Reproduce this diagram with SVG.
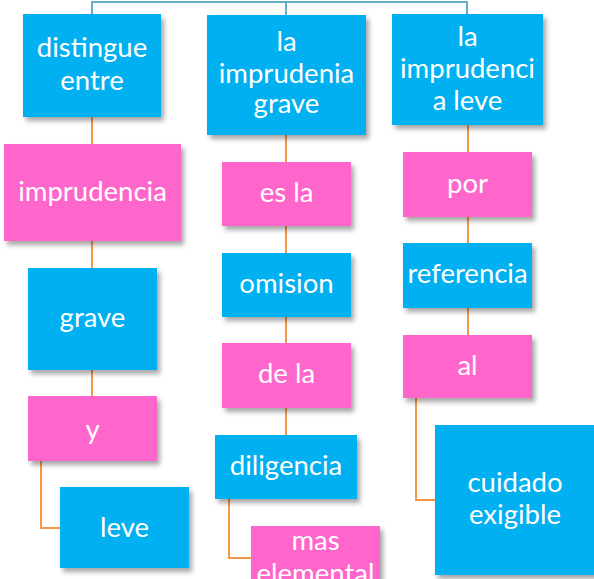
<svg xmlns="http://www.w3.org/2000/svg" width="594" height="579" viewBox="0 0 594 579">
<defs>
<filter id="sh" x="-10%" y="-10%" width="125%" height="130%">
<feDropShadow dx="3" dy="4" stdDeviation="2.5" flood-color="#000" flood-opacity="0.35"/>
</filter>
<style>
.b{fill:#00B0F0;filter:url(#sh)}
.p{fill:#FF66CC;filter:url(#sh)}
text{font-family:Lato,"Open Sans","Noto Sans",sans-serif;font-size:27.5px;fill:#fff;text-anchor:middle}
.c{fill:none;stroke:#F79646;stroke-width:2}
.t{fill:none;stroke:#62AFC8;stroke-width:2}
</style>
</defs>
<rect width="594" height="579" fill="#fff"/>
<g id="connectors">
<path class="t" d="M92 14V2H467V14M286 2V15"/>
<path class="c" d="M92 117V144M92 241V268M92 370V396M41 461V528H60"/>
<path class="c" d="M286 135V162M286 226V253M286 317V343M286 408V435M229 499V558H251"/>
<path class="c" d="M468 125V152M468 217V243M468 308V335M416 398V500H435"/>
</g>
<g id="n1"><rect class="b" x="23" y="14" width="138" height="103"/><text x="92" y="57">distingue</text><text x="92" y="90">entre</text></g>
<g id="n2"><rect class="b" x="207" y="15" width="159" height="120"/><text x="286.5" y="51">la</text><text x="286.5" y="83">imprudenia</text><text x="286.5" y="113">grave</text></g>
<g id="n3"><rect class="b" x="392" y="14" width="151" height="111"/><text x="467.5" y="46">la</text><text x="467.5" y="78">imprudenci</text><text x="467.5" y="110">a leve</text></g>
<g id="n4"><rect class="p" x="4" y="144" width="177" height="97"/><text x="92.5" y="201">imprudencia</text></g>
<g id="n5"><rect class="b" x="28" y="268" width="129" height="102"/><text x="92.5" y="327">grave</text></g>
<g id="n6"><rect class="p" x="28" y="396" width="129" height="65"/><text x="92.5" y="439">y</text></g>
<g id="n7"><rect class="b" x="60" y="487" width="129" height="81"/><text x="124.5" y="537">leve</text></g>
<g id="n8"><rect class="p" x="222" y="162" width="129" height="64"/><text x="286.5" y="202">es la</text></g>
<g id="n9"><rect class="b" x="222" y="253" width="129" height="64"/><text x="286.5" y="293">omision</text></g>
<g id="n10"><rect class="p" x="222" y="343" width="129" height="65"/><text x="286.5" y="383">de la</text></g>
<g id="n11"><rect class="b" x="215" y="435" width="142" height="64"/><text x="286" y="475">diligencia</text></g>
<g id="n12"><rect class="p" x="251" y="526" width="129" height="70"/><text x="315.5" y="550">mas</text><text x="315.5" y="583">elemental</text></g>
<g id="n13"><rect class="p" x="403" y="152" width="129" height="65"/><text x="467.5" y="193">por</text></g>
<g id="n14"><rect class="b" x="403" y="243" width="129" height="65"/><text x="467.5" y="283">referencia</text></g>
<g id="n15"><rect class="p" x="403" y="335" width="129" height="63"/><text x="467.5" y="375">al</text></g>
<g id="n16"><rect class="b" x="435" y="425" width="162" height="150"/><text x="515" y="492">cuidado</text><text x="515" y="524">exigible</text></g>
</svg>
